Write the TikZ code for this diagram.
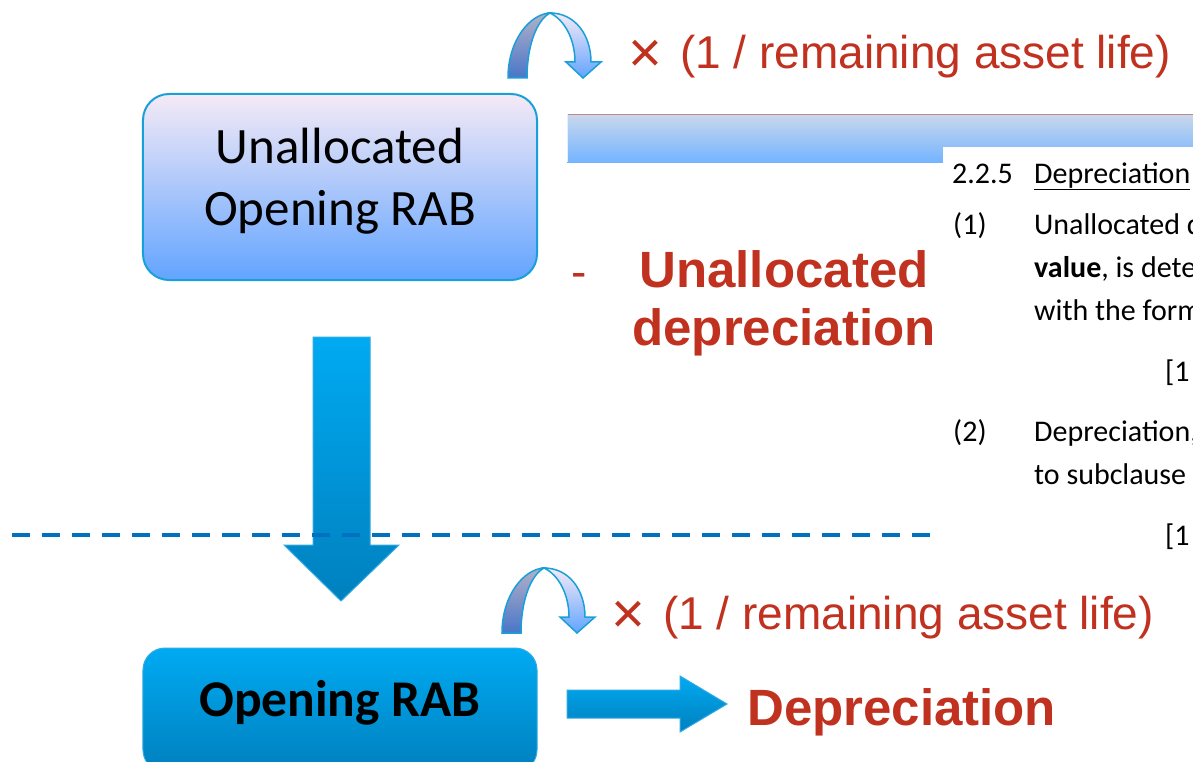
\documentclass[tikz,border=0pt]{standalone}
\usepackage{fontspec}
\setmainfont{Carlito}
\newfontfamily\arialfont{Liberation Sans}

\definecolor{redtxt}{RGB}{192,49,31}
\definecolor{boxedge}{RGB}{26,160,216}
\definecolor{paletop}{RGB}{245,234,246}
\definecolor{palebot}{RGB}{98,164,255}
\definecolor{deeptop}{RGB}{0,170,242}
\definecolor{deepbot}{RGB}{0,128,190}
\definecolor{deepedge}{RGB}{50,170,226}
\definecolor{dashblue}{RGB}{0,112,192}
\definecolor{bartop}{RGB}{202,216,236}
\definecolor{barbot}{RGB}{116,180,255}
\definecolor{baredge}{RGB}{192,136,140}
\definecolor{ribtop}{RGB}{178,176,200}
\definecolor{ribbot}{RGB}{72,118,200}

\newcommand{\timesmark}{\raisebox{-4bp}{\fontsize{58bp}{58bp}\selectfont ×}\hspace{18bp}}

\tikzset{
  palebox/.style={draw=boxedge, line width=2bp, rounded corners=26bp,
    top color=paletop, bottom color=palebot, minimum width=394bp, inner sep=0pt},
  deepbox/.style={draw=deepedge, line width=1bp, rounded corners=22bp,
    top color=deeptop, bottom color=deepbot, minimum width=394bp, inner sep=0pt},
  blockarrow/.style={draw=deepedge, line width=1bp, top color=deeptop, bottom color=deepbot},
  redbig/.style={text=redtxt, font=\arialfont\bfseries\fontsize{51bp}{58bp}\selectfont, inner sep=0pt},
  redrate/.style={text=redtxt, font=\arialfont\fontsize{46bp}{50bp}\selectfont, inner sep=0pt, anchor=base west},
  doctext/.style={font=\fontsize{30bp}{36bp}\selectfont, inner sep=0pt, anchor=base west},
  curl/.pic={
    % back face of the ribbon
    \shadedraw[draw=boxedge, line width=1.5bp, top color=ribtop, bottom color=ribbot]
      (0,0) .. controls (0,-38) and (22,-64) .. (42,-65)
      .. controls (29,-58) and (19,-33) .. (19,0) -- cycle;
    % front face with the arrow head
    \shadedraw[draw=boxedge, line width=1.5bp, top color=paletop, bottom color=palebot]
      (42,-65) .. controls (67,-65) and (83,-43) .. (83,-16)
      -- (93,-16) -- (75,0) -- (58,-16) -- (67,-16)
      .. controls (67,-38) and (57,-58) .. (42,-65) -- cycle;
  }
}

\begin{document}
\begin{tikzpicture}[x=1bp, y=-1bp]
\useasboundingbox (0,0) rectangle (1193,762);
\clip (0,0) rectangle (1193,762);
\fill[white] (0,0) rectangle (1193,762);

% wide bar behind the clause excerpt
\shade[top color=bartop, bottom color=barbot] (567,114) rectangle (1200,162);
\draw[baredge, line width=1.2bp] (567,114.5) -- (1200,114.5);
\draw[white!80!barbot, line width=1bp] (567.5,114) -- (567.5,162);

% clause excerpt
\fill[white] (943,147) rectangle (1200,770);
\node[doctext] (c0) at (952,183) {2.2.5};
\node[doctext] (c0t) at (1034,183) {\underline{Depreciation}};
\node[doctext] (c1) at (953,234) {(1)};
\node[doctext] (c1a) at (1034,234) {Unallocated d};
\node[doctext] (c1b) at (1034,277) {\textbf{value}, is dete};
\node[doctext] (c1c) at (1034,320) {with the form};
\node[doctext] (c1d) at (1165,381) {[1};
\node[doctext] (c2) at (953,441) {(2)};
\node[doctext] (c2a) at (1034,441) {Depreciation,};
\node[doctext] (c2b) at (1034,484) {to subclause};
\node[doctext] (c2c) at (1165,545) {[1};

% boxes
\node[palebox, minimum height=186bp] (ua) at (340,187) {};
\node[font=\fontsize{51bp}{62bp}\selectfont, align=center, inner sep=0pt] (ualabel) at (340,181)
  {Unallocated\\Opening RAB};
\node[deepbox, minimum height=124bp, font=\bfseries\fontsize{51.5bp}{56bp}\selectfont,
  text height=34bp, text depth=22bp] (ob) at (340,710) {Opening RAB};

% block arrows
\coordinate (dtop) at (341,337);
\coordinate (rtail) at (567,704);
\shadedraw[blockarrow]
  ([xshift=-28bp]dtop) -- ([xshift=29bp]dtop) -- ++(0,208) -- ++(29,0)
  -- ([yshift=-264bp]dtop) -- ++(-57,-56) -- ++(29,0) -- cycle;
\shadedraw[blockarrow]
  ([yshift=14bp]rtail) -- ++(113,0) -- ++(0,-14) -- ([xshift=160bp]rtail)
  -- ++(-47,28) -- ++(0,-14) -- ([yshift=-14bp]rtail) -- cycle;

% period separator
\coordinate (sepL) at (12,535);
\coordinate (sepR) at (938,535);
\draw[dashblue, line width=3.5bp, dash pattern=on 18bp off 12bp] (sepL) -- (sepR);

% curl arrows
\pic (curltop) at (508,78) {curl};
\pic (curlbot) at (502,633) {curl};

% red annotations
\node[redrate] (ratetop) at (628,69) {\timesmark(1 / remaining asset life)};
\node[redrate] (ratebot) at (611,629) {\timesmark(1 / remaining asset life)};
\node[redrate] (minus) at (571,287) {-};
\node[redbig, align=center] (unalloc) at (784,303) {Unallocated\\depreciation};
\node[redbig, anchor=base west] (dep) at (747,725) {Depreciation};
\end{tikzpicture}
\end{document}
